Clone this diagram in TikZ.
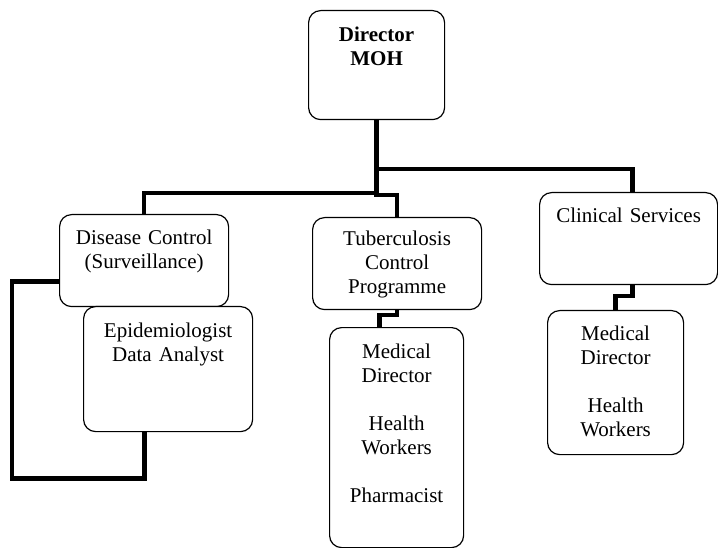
\documentclass[tikz,border=0pt]{standalone}
\usepackage{fontspec}
\setmainfont{Liberation Serif}
\usepackage{tikz}
\begin{document}
\begin{tikzpicture}[x=1pt,y=-1pt]
\tikzstyle{every node}+=[inner sep=0pt]
\tikzstyle{post}=[draw=black,fill=white,line width=1.2pt,rounded corners=12pt,align=center,anchor=north west,font=\fontsize{21}{24}\selectfont,text height=30pt]
\tikzstyle{link}=[draw=black,line width=4.5pt]
\useasboundingbox (0,0) rectangle (718,548);
\node [post,text width=136pt,text height=31pt,text depth=78pt] (dir) at (308,10) {\textbf{Director}\\\textbf{MOH}};
\node [post,text width=169pt,text depth=62pt] (dc) at (59,214) {Disease Control\\(Surveillance)};
\node [post,text width=169pt,text height=28pt,text depth=64pt] (tb) at (312,217) {Tuberculosis\\Control\\Programme};
\node [post,text width=178pt,text depth=62pt] (cs) at (539,192) {Clinical Services};
\node [post,text width=169pt,text height=31pt,text depth=94pt] (epi) at (83,306) {Epidemiologist\\Data Analyst};
\node [post,text width=134pt,text height=31pt,text depth=189pt] (mtb) at (329,327) {Medical\\Director\\[24pt]Health\\Workers\\[24pt]Pharmacist};
\node [post,text width=136pt,text depth=114pt] (mcs) at (547,310) {Medical\\Director\\[24pt]Health\\Workers};
\draw [link] (dir.south) -- ++(0,49) -| ([xshift=4pt]cs.north);
\draw [link] (dir.south) -- ++(0,73) -| (dc.north);
\draw [link] (dir.south) -- ++(0,75) -| (tb.north);
\draw [link] (tb.south) -- ++(0,5) -| ([xshift=-17pt]mtb.north);
\draw [link] ([xshift=4pt]cs.south) -- ++(0,11) -| (mcs.north);
\draw [link] ([yshift=-21pt]dc.west) -- ++(-47,0) -- ++(0,197) -| ([xshift=-23.5pt]epi.south);
\end{tikzpicture}
\end{document}
